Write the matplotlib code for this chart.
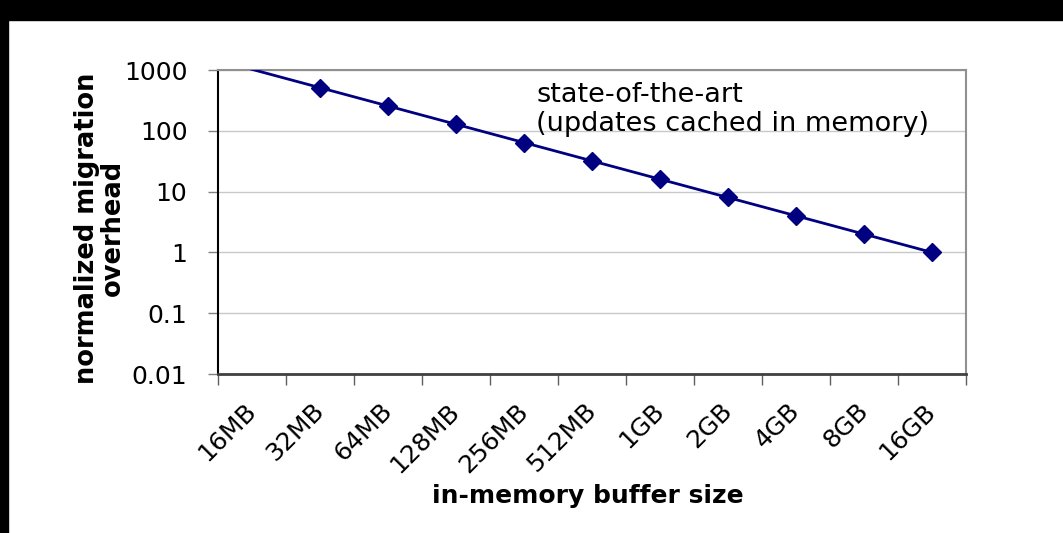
import matplotlib
matplotlib.use("Agg")
import matplotlib.pyplot as plt
from matplotlib.patches import Rectangle
import numpy as np

buffer_sizes = ["16MB", "32MB", "64MB", "128MB", "256MB", "512MB",
                "1GB", "2GB", "4GB", "8GB", "16GB"]
overhead = [1024, 512, 256, 128, 64, 32, 16, 8, 4, 2, 1]
y_ticks = [0.01, 0.1, 1, 10, 100, 1000]
y_tick_labels = ["0.01", "0.1", "1", "10", "100", "1000"]

plt.rcParams['font.family'] = ['DejaVu Sans']

W, H = 1063, 533
fig = plt.figure(figsize=(W / 100, H / 100), dpi=100)
fig.patch.set_facecolor("white")

# black strips at top and left of the screenshot
fig.patches.append(Rectangle((0, 1 - 20 / H), 1, 20 / H, transform=fig.transFigure,
                             color="black", zorder=0))
fig.patches.append(Rectangle((0, 0), 8 / W, 1, transform=fig.transFigure,
                             color="black", zorder=0))

ax = fig.add_axes([218 / W, 1 - 374 / H, (966 - 218) / W, (374 - 70) / H])

x = np.arange(len(buffer_sizes))
marks = [i for i, v in enumerate(overhead) if v <= 1000]
ax.plot(x, overhead, color="#000080", lw=2, marker="D", markersize=9,
        markevery=marks, zorder=3)

ax.set_yscale("log")
ax.set_ylim(0.01, 1000)
ax.set_xlim(-0.5, len(buffer_sizes) - 0.5)

ax.set_yticks(y_ticks)
ax.set_yticklabels(y_tick_labels, fontsize=18)
ax.yaxis.set_minor_locator(matplotlib.ticker.NullLocator())
ax.tick_params(axis="y", direction="out", length=7, width=1, color="#808080", pad=15)
ax.grid(axis="y", which="major", color="#c8c8c8", lw=1)

ax.set_xticks(x)
ax.set_xticklabels(buffer_sizes, rotation=45, ha="right", va="center",
                   rotation_mode="anchor", fontsize=18)
ax.set_xticks(np.arange(len(buffer_sizes) + 1) - 0.5, minor=True)
ax.tick_params(axis="x", which="major", length=0, pad=24)
ax.tick_params(axis="x", which="minor", direction="out", length=8, width=1, color="#606060")

ax.spines["left"].set_color("black")
ax.spines["left"].set_linewidth(1.5)
ax.spines["bottom"].set_color("#404040")
ax.spines["bottom"].set_linewidth(2)
for s in ["top", "right"]:
    ax.spines[s].set_color("#909090")
    ax.spines[s].set_linewidth(1.5)

ax.text((536 - 218) / 748, (374 - 82) / 304,
        "state-of-the-art\n(updates cached in memory)",
        transform=ax.transAxes, ha="left", va="top", fontsize=19.5, linespacing=1.15)

fig.text(100 / W, 1 - 228 / H, "normalized migration\noverhead", rotation=90,
         ha="center", va="center", multialignment="center",
         fontsize=18.5, fontweight="bold", linespacing=1.0)
fig.text(588 / W, 1 - 496 / H, "in-memory buffer size", ha="center", va="center",
         fontsize=18, fontweight="bold")

fig.savefig("out.png", dpi=100)
